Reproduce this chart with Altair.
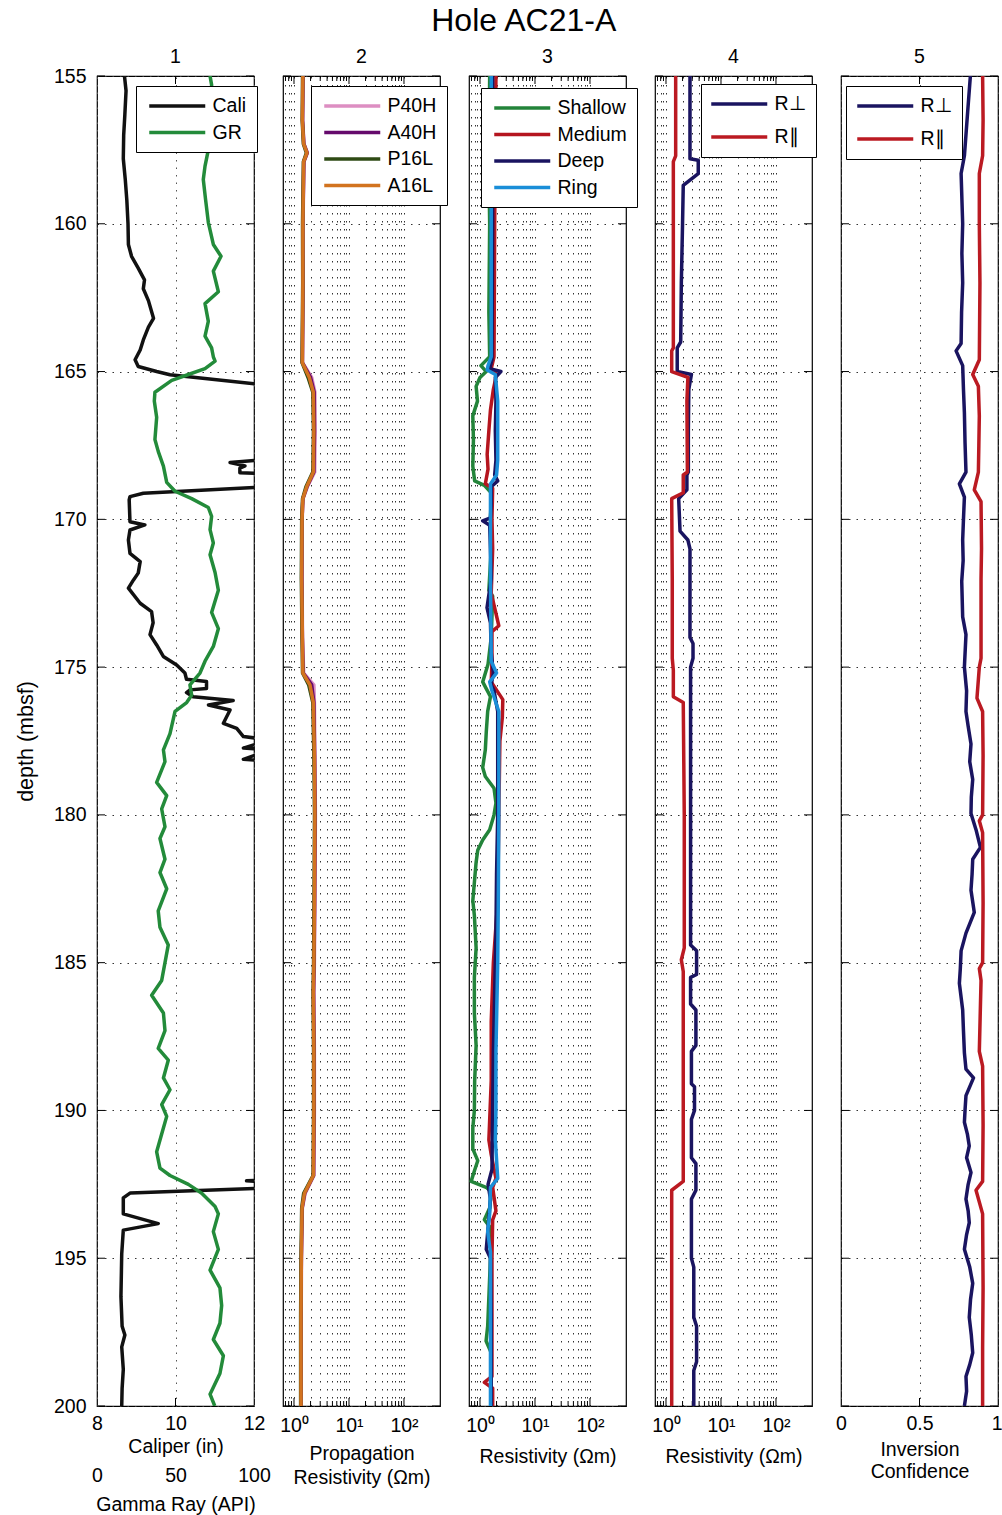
import altair as alt
import pandas as pd

FONT = "Liberation Sans"
FS = 19.5
W, H = 157, 1330
LW = 3.5
DEPTH_TICKS = [155, 160, 165, 170, 175, 180, 185, 190, 195, 200]

# ---------------- Track 1 : caliper (in) and gamma ray (API) ----------------
CALI = [(155.0, 8.70), (155.5, 8.74), (156.3, 8.71), (157.0, 8.68), (157.8, 8.67), (158.5, 8.72),
        (159.2, 8.76), (160.0, 8.79), (160.7, 8.80), (161.1, 8.88), (161.5, 9.05), (161.9, 9.21),
        (162.2, 9.18), (162.6, 9.31), (163.2, 9.44), (163.5, 9.31), (163.93, 9.18), (164.27, 9.10),
        (164.6, 8.97), (164.83, 9.05), (165.0, 9.52), (165.11, 9.86), (165.5, 12.6), (165.6, 13.0),
        (167.9, 13.0), (168.08, 11.39), (168.19, 11.77), (168.27, 11.64), (168.42, 11.64), (168.5, 13.0),
        (168.85, 13.0), (169.12, 9.18), (169.23, 8.84), (169.34, 8.82), (170.08, 8.84), (170.19, 9.22),
        (170.36, 8.84), (170.7, 8.80), (171.15, 8.84), (171.43, 9.10), (171.82, 9.05), (172.05, 8.93),
        (172.33, 8.80), (172.84, 9.10), (173.12, 9.39), (173.5, 9.43), (173.9, 9.35), (174.25, 9.52),
        (174.64, 9.69), (174.93, 10.03), (175.2, 10.24), (175.41, 10.28), (175.49, 10.79), (175.72, 10.79),
        (175.77, 10.37), (175.86, 10.28), (176.0, 10.45), (176.13, 11.47), (176.28, 10.84), (176.45, 11.39),
        (176.9, 11.22), (177.07, 11.56), (177.35, 11.73), (177.46, 12.4), (177.74, 11.73), (177.8, 12.4),
        (178.12, 11.73), (178.23, 13.0), (192.3, 13.0), (192.38, 11.81), (192.48, 13.0), (192.62, 12.4),
        (192.79, 8.85), (192.96, 8.67), (193.5, 8.67), (193.83, 9.56), (194.05, 8.67), (194.85, 8.63),
        (196.3, 8.61), (197.3, 8.64), (197.6, 8.71), (198.0, 8.63), (198.76, 8.67), (199.4, 8.64),
        (200.0, 8.63)]

GR = [(155.0, 72.0), (155.3, 73.0), (156.3, 72.6), (157.5, 70.9), (158.05, 68.8), (158.5, 67.7),
      (159.2, 69.2), (159.95, 70.9), (160.7, 74.1), (161.1, 79.0), (161.6, 74.1), (162.3, 77.3),
      (162.7, 68.8), (163.3, 70.9), (163.8, 68.8), (164.2, 73.0), (164.5, 74.1), (164.65, 75.2),
      (164.9, 68.8), (165.1, 58.2), (165.3, 47.6), (165.7, 36.9), (166.0, 36.5), (166.55, 38.0),
      (167.3, 36.9), (167.7, 39.0), (168.2, 42.3), (168.75, 44.4), (169.05, 49.7), (169.3, 60.3),
      (169.6, 70.9), (169.9, 73.0), (170.35, 72.0), (170.8, 74.1), (171.2, 72.0), (171.8, 75.2),
      (172.4, 77.3), (173.15, 73.0), (173.7, 77.3), (174.3, 74.1), (174.8, 68.8), (175.2, 65.6),
      (175.6, 59.2), (175.95, 60.3), (176.2, 57.1), (176.5, 49.7), (177.25, 46.5), (177.8, 42.3),
      (178.2, 43.3), (178.9, 38.0), (179.35, 44.4), (179.8, 41.2), (180.4, 43.3), (180.8, 40.1),
      (181.5, 43.3), (181.95, 40.1), (182.5, 44.4), (183.25, 39.0), (183.8, 40.1), (184.4, 45.4),
      (185.0, 43.3), (185.6, 41.2), (186.1, 34.8), (186.7, 42.3), (187.3, 43.3), (187.9, 39.0),
      (188.3, 45.4), (188.9, 42.3), (189.3, 46.5), (189.8, 41.2), (190.2, 44.4), (190.8, 41.2),
      (191.4, 38.0), (191.95, 40.1), (192.2, 46.5), (192.5, 58.2), (192.8, 66.7), (193.25, 75.2),
      (193.5, 77.3), (194.1, 74.1), (194.7, 77.3), (195.4, 72.0), (196.0, 78.3), (196.6, 79.4),
      (197.2, 78.3), (197.75, 74.1), (198.3, 80.5), (198.9, 78.3), (199.6, 72.0), (200.0, 75.0)]

# ---------------- Track 2 : propagation resistivity (ohm m) ----------------
PROP_DEPTH = [155, 156.5, 157.3, 157.6, 157.9, 160, 162, 164.7, 165.2, 165.7, 167, 168.4, 168.9,
              169.3, 170, 172, 174, 175.2, 175.6, 176.2, 178, 180, 183, 185, 186, 188, 190, 192.2,
              192.8, 193.3, 195, 197, 200]
P40H = [1.47, 1.44, 1.52, 1.75, 1.52, 1.46, 1.47, 1.43, 2.10, 2.40, 2.42, 2.38, 1.75, 1.46, 1.41,
        1.40, 1.43, 1.50, 2.30, 2.35, 2.40, 2.45, 2.40, 2.35, 2.30, 2.35, 2.35, 2.30, 1.60, 1.42,
        1.37, 1.35, 1.35]
A40H = [1.46, 1.43, 1.51, 1.74, 1.51, 1.45, 1.46, 1.42, 2.00, 2.33, 2.36, 2.30, 1.72, 1.45, 1.40,
        1.39, 1.42, 1.47, 2.10, 2.30, 2.37, 2.42, 2.37, 2.32, 2.27, 2.32, 2.32, 2.27, 1.57, 1.41,
        1.36, 1.34, 1.34]
P16L = [1.43, 1.41, 1.48, 1.68, 1.48, 1.43, 1.44, 1.40, 1.80, 2.20, 2.26, 2.20, 1.65, 1.43, 1.38,
        1.36, 1.40, 1.43, 1.85, 2.20, 2.30, 2.36, 2.31, 2.27, 2.22, 2.27, 2.27, 2.22, 1.50, 1.38,
        1.34, 1.32, 1.32]
A16L = [1.45, 1.42, 1.50, 1.72, 1.50, 1.45, 1.45, 1.42, 1.90, 2.25, 2.30, 2.25, 1.70, 1.45, 1.40,
        1.38, 1.42, 1.45, 1.95, 2.25, 2.35, 2.40, 2.35, 2.30, 2.25, 2.30, 2.30, 2.25, 1.55, 1.40,
        1.36, 1.34, 1.34]

# ---------------- Track 3 : resistivity (ohm m) ----------------
SHALLOW = [(155, 1.50), (158, 1.45), (160, 1.50), (163, 1.45), (164.5, 1.50), (164.8, 1.04),
           (165.0, 1.30), (165.2, 1.00), (165.5, 0.85), (166.0, 0.90), (166.5, 0.74), (167.3, 0.76),
           (168.2, 0.74), (168.7, 0.80), (168.85, 1.20), (169.1, 1.60), (170.0, 1.55), (171.0, 1.60),
           (172.4, 1.45), (172.6, 1.70), (174.0, 1.60), (174.9, 1.40), (175.5, 1.12), (176.0, 1.55),
           (176.5, 1.38), (177.2, 1.30), (177.8, 1.25), (178.4, 1.12), (178.7, 1.25), (179.1, 1.80),
           (179.6, 1.95), (180.0, 1.80), (180.5, 1.50), (180.85, 1.12), (181.2, 0.91), (181.6, 0.85),
           (182.9, 0.74), (183.4, 0.79), (184.5, 0.85), (185.5, 0.79), (186.7, 0.79), (187.8, 0.85),
           (189.0, 0.80), (190.0, 0.79), (190.6, 0.74), (191.3, 0.74), (191.7, 0.91), (192.05, 0.79),
           (192.4, 0.69), (192.6, 1.29), (192.75, 1.60), (193.3, 1.50), (193.7, 1.20), (194.0, 1.60),
           (195.0, 1.55), (197.3, 1.38), (197.8, 1.29), (198.2, 1.60), (200.0, 1.60)]
MEDIUM = [(155, 1.95), (157, 1.90), (160, 1.85), (164.5, 1.80), (164.9, 1.60), (165.1, 2.00),
          (165.6, 1.75), (166.3, 1.55), (167.0, 1.45), (167.8, 1.35), (168.3, 1.40), (168.8, 1.25),
          (168.95, 1.70), (170.0, 1.65), (171.0, 1.70), (172.5, 1.60), (173.6, 2.20), (173.8, 1.65),
          (174.8, 1.65), (175.5, 1.60), (176.1, 2.60), (176.7, 2.55), (177.5, 2.30), (180.0, 2.20),
          (182.9, 2.10), (185.0, 1.75), (187.0, 1.60), (189.0, 1.60), (190.6, 1.48), (191.0, 1.45),
          (191.5, 1.60), (192.3, 1.95), (192.6, 1.70), (193.4, 1.95), (193.7, 1.70), (195.0, 1.65),
          (199.0, 1.65), (199.2, 1.20), (199.4, 1.70), (200.0, 1.70)]
DEEP = [(155, 1.70), (160, 1.70), (164.6, 1.65), (164.9, 1.50), (165.0, 2.40), (165.2, 1.90),
        (166.0, 1.95), (167.0, 1.90), (168.0, 1.95), (168.5, 1.85), (168.7, 2.10), (168.9, 1.60),
        (169.5, 1.60), (169.95, 1.55), (170.05, 1.12), (170.2, 1.50), (171.0, 1.55), (172.0, 1.60),
        (172.99, 1.34), (173.5, 1.55), (174.5, 1.60), (175.2, 1.75), (175.6, 1.60), (175.8, 1.80),
        (176.5, 2.10), (178.0, 2.10), (180.0, 2.10), (182.0, 2.00), (184.0, 1.95), (186.0, 1.85),
        (188.0, 1.75), (190.0, 1.70), (192.0, 1.65), (192.5, 1.40), (193.0, 1.55), (194.7, 1.30),
        (195.0, 1.55), (197.0, 1.60), (200.0, 1.60)]
RING = [(155, 1.60), (160, 1.60), (164.5, 1.60), (164.8, 1.40), (164.95, 1.35), (165.1, 1.90),
        (166.0, 2.10), (168.0, 2.10), (168.5, 2.00), (168.8, 1.55), (170.0, 1.55), (172.0, 1.55),
        (174.8, 1.60), (175.2, 2.00), (175.5, 1.50), (175.8, 1.65), (176.5, 2.20), (178.0, 2.20),
        (180.0, 2.20), (183.0, 2.15), (185.0, 2.10), (188.0, 1.95), (190.0, 1.95), (191.0, 1.90),
        (192.3, 2.10), (192.6, 1.55), (193.5, 1.50), (194.1, 1.38), (194.8, 1.55), (197.0, 1.55),
        (200.0, 1.55)]

# ---------------- Track 4 : inverted resistivity (ohm m) ----------------
RPERP = [(155, 2.73), (157.8, 2.73), (157.85, 3.86), (158.3, 3.86), (158.7, 2.06), (160, 2.00),
         (162, 1.90), (164, 1.85), (164.2, 1.60), (165.0, 1.60), (165.1, 2.90), (165.6, 2.60),
         (167, 2.55), (168.4, 2.55), (168.5, 2.40), (169.0, 2.40), (169.3, 1.70), (170.4, 1.80),
         (170.7, 2.50), (171, 2.73), (174, 2.73), (174.2, 3.10), (174.7, 3.10), (175, 2.80),
         (180, 2.80), (184.4, 2.80), (184.6, 3.60), (185.4, 3.60), (185.5, 2.80), (186.4, 2.80),
         (186.6, 3.50), (187.8, 3.50), (188.0, 2.90), (189.1, 2.90), (189.2, 3.30), (190, 3.30),
         (190.3, 2.90), (191.6, 2.90), (191.8, 3.50), (192.7, 3.50), (193, 2.90), (195, 2.90),
         (195.3, 3.20), (197, 3.20), (197.3, 3.60), (198.5, 3.60), (198.8, 3.20), (200, 3.20)]
RPAR = [(155, 1.50), (157.7, 1.50), (157.9, 1.36), (160, 1.36), (164.2, 1.36), (164.3, 1.27),
        (165.0, 1.27), (165.2, 2.50), (166, 2.40), (168.4, 2.45), (168.5, 2.06), (169.1, 2.06),
        (169.3, 1.27), (172, 1.30), (174.7, 1.30), (175.1, 1.36), (176.0, 1.36), (176.2, 2.06),
        (180, 2.15), (184.5, 2.15), (184.9, 1.90), (185.3, 2.06), (192.4, 2.06), (192.7, 1.27),
        (200, 1.27)]

# ---------------- Track 5 : inversion confidence ----------------
CONF_PERP = [(155, 0.824), (156.2, 0.807), (157.7, 0.786), (158.3, 0.765), (160.0, 0.775),
             (161.0, 0.770), (162.0, 0.775), (163.0, 0.768), (164.05, 0.765), (164.3, 0.733),
             (164.8, 0.775), (165.6, 0.780), (166.4, 0.786), (167.4, 0.790), (168.4, 0.796),
             (168.8, 0.754), (169.25, 0.786), (170.0, 0.780), (170.7, 0.775), (171.4, 0.778),
             (172.1, 0.769), (173.3, 0.775), (173.9, 0.796), (175.0, 0.786), (175.8, 0.800),
             (176.5, 0.796), (177.0, 0.810), (177.6, 0.828), (178.2, 0.820), (178.8, 0.839),
             (179.4, 0.830), (179.95, 0.828), (180.5, 0.860), (181.1, 0.888), (181.5, 0.839),
             (182.0, 0.835), (182.55, 0.828), (183.3, 0.849), (184.0, 0.796), (184.6, 0.765),
             (185.2, 0.760), (185.7, 0.754), (186.6, 0.775), (187.3, 0.780), (188.05, 0.786),
             (188.6, 0.796), (188.9, 0.844), (189.5, 0.796), (190.0, 0.790), (190.4, 0.786),
             (190.8, 0.805), (191.2, 0.817), (191.6, 0.800), (192.1, 0.828), (192.5, 0.810),
             (193.0, 0.796), (193.4, 0.810), (193.8, 0.817), (194.2, 0.800), (194.7, 0.786),
             (195.3, 0.820), (195.85, 0.839), (196.4, 0.825), (197.0, 0.817), (197.6, 0.830),
             (198.2, 0.839), (198.6, 0.820), (199.0, 0.796), (199.5, 0.800), (200.0, 0.786)]
CONF_PAR = [(155, 0.902), (156.5, 0.905), (157.7, 0.902), (158.3, 0.881), (160, 0.881), (162, 0.885),
            (164.6, 0.881), (165.1, 0.839), (165.5, 0.875), (166.5, 0.881), (167.5, 0.878),
            (168.4, 0.875), (169.0, 0.849), (169.4, 0.892), (171, 0.895), (172, 0.892),
            (174.7, 0.892), (175.0, 0.881), (176.05, 0.866), (176.5, 0.902), (178, 0.905),
            (180.0, 0.902), (180.2, 0.881), (180.6, 0.902), (183, 0.905), (185.0, 0.902),
            (185.2, 0.881), (185.6, 0.892), (188.0, 0.881), (188.5, 0.902), (190.5, 0.905),
            (192.4, 0.902), (192.7, 0.860), (193.5, 0.902), (196, 0.905), (198, 0.902), (200, 0.902)]

LOG_MAJOR = [1, 10, 100]
LOG_MINOR = [0.7, 0.8, 0.9, 2, 3, 4, 5, 6, 7, 8, 9, 20, 30, 40, 50, 60, 70, 80, 90]


# ---------------- helpers ----------------
def frame(named_pairs):
    rows = []
    for name, pairs in named_pairs:
        for d, v in pairs:
            rows.append({"series": name, "depth": d, "value": v})
    return pd.DataFrame(rows)


YSCALE = alt.Scale(domain=[155, 200], reverse=True, nice=False, zero=False)


def y_enc(show):
    if show:
        ax = alt.Axis(values=DEPTH_TICKS, grid=True, gridColor="#333", gridDash=[1.5, 6],
                      ticks=False, domain=False, labelFontSize=FS, labelPadding=11,
                      title="depth (mbsf)", titleFontSize=21.5, titlePadding=16)
    else:
        ax = alt.Axis(values=DEPTH_TICKS, grid=True, gridColor="#333", gridDash=[1.5, 6],
                      ticks=False, domain=False, labels=False, title=None)
    return alt.Y("depth:Q", scale=YSCALE, axis=ax)


def line_layers(df, names, colors, xscale, xaxis, legend, show_y):
    cscale = alt.Scale(domain=names, range=colors)
    out = []
    for n in names:
        out.append(
            alt.Chart(df).transform_filter(alt.datum.series == n)
            .mark_line(strokeWidth=LW, clip=True, strokeJoin="round")
            .encode(x=alt.X("value:Q", scale=xscale, axis=xaxis),
                    y=y_enc(show_y),
                    color=alt.Color("series:N", scale=cscale, legend=legend),
                    order=alt.Order("depth:Q")))
    return out


def xtick_layers(major, minor, xscale, xaxis):
    out = []
    for vals, ln in ((major, 8), (minor, 5)):
        if not vals:
            continue
        d = pd.DataFrame({"value": vals})
        for top in (True, False):
            y0 = 0 if top else H
            y1 = ln if top else H - ln
            out.append(alt.Chart(d).mark_rule(color="black", strokeWidth=1).encode(
                x=alt.X("value:Q", scale=xscale, axis=xaxis),
                y=alt.value(y0), y2=alt.value(y1)))
    return out


def ytick_layers(show_y):
    d = pd.DataFrame({"depth": DEPTH_TICKS})
    return [alt.Chart(d).mark_rule(color="black", strokeWidth=1).encode(
                y=y_enc(show_y), x=alt.value(x0), x2=alt.value(x1))
            for x0, x1 in ((0, 8), (W - 8, W))]


# legend line symbol: custom path of 56 px drawn with a small nominal size
SYM_UNIT = 16                      # sqrt(symbolSize)
SYM_LEN = 56                       # visible line length
ENTRY = max(SYM_UNIT + LW, FS)     # vega entry size (rounded up)
SYM_PATH = "M-%.4f,0H%.4f" % (SYM_LEN / SYM_UNIT, SYM_LEN / SYM_UNIT)


def legend(x, y, rowpad=6.5, shift=3):
    sym_off = SYM_LEN / 2 - ENTRY / 2 + shift
    lab_off = SYM_LEN + 7 - ENTRY - sym_off + shift
    return alt.Legend(title=None, orient="none", legendX=x, legendY=y, symbolType=SYM_PATH,
                      symbolSize=SYM_UNIT * SYM_UNIT, symbolStrokeWidth=LW,
                      symbolOffset=sym_off, labelOffset=lab_off,
                      labelFontSize=FS, labelFont=FONT, labelColor="black", strokeColor="black",
                      fillColor="white", padding=10, rowPadding=rowpad, cornerRadius=0)


def ptitle(t, off=8):
    return alt.TitleParams(text=t, fontSize=FS, font=FONT, fontWeight="normal", offset=off)


LOG_SCALE = alt.Scale(type="log", domain=[0.631, 452], nice=False)
LOG_LABEL = "datum.value == 1 ? '10⁰' : datum.value == 10 ? '10¹' : datum.value == 100 ? '10²' : ''"


def log_axis(title, tpad):
    return alt.Axis(values=LOG_MAJOR + LOG_MINOR, labelExpr=LOG_LABEL, grid=True, gridColor="#333",
                    gridDash=[1.5, 6.5], ticks=False, domain=False, labelFlush=False, labelOverlap=False,
                    labelFontSize=FS, labelPadding=10, title=title, titleFontSize=FS,
                    titlePadding=tpad, titleLineHeight=24)


# ---------------- track 1 ----------------
df1 = frame([("Cali", CALI), ("GR", GR)])
cscale1 = alt.Scale(domain=["Cali", "GR"], range=["#111111", "#238b3a"])
leg1 = legend(39, 10)
cal_scale = alt.Scale(domain=[8, 12], nice=False, zero=False)
gr_scale = alt.Scale(domain=[0, 100], nice=False, zero=False)
cal_axis = alt.Axis(values=[8, 10, 12], format="d", grid=True, gridColor="#555", gridDash=[1.5, 6],
                    ticks=False, domain=False, labelFlush=False, labelFontSize=FS, labelPadding=8,
                    title="Caliper (in)", titleFontSize=FS, titlePadding=5)
gr_axis = alt.Axis(values=[0, 50, 100], format="d", grid=False, ticks=False, domain=False,
                   labelFlush=False, labelFontSize=FS, labelPadding=8, offset=52, orient="bottom",
                   title="Gamma Ray (API)", titleFontSize=FS, titlePadding=11)
cal = (alt.Chart(df1).transform_filter(alt.datum.series == "Cali")
       .mark_line(strokeWidth=LW, clip=True, strokeJoin="round")
       .encode(x=alt.X("value:Q", scale=cal_scale, axis=cal_axis), y=y_enc(True),
               color=alt.Color("series:N", scale=cscale1, legend=leg1), order=alt.Order("depth:Q")))
grl = (alt.Chart(df1).transform_filter(alt.datum.series == "GR")
       .mark_line(strokeWidth=LW, clip=True, strokeJoin="round")
       .encode(x=alt.X("value:Q", scale=gr_scale, axis=gr_axis), y=y_enc(True),
               color=alt.Color("series:N", scale=cscale1, legend=leg1), order=alt.Order("depth:Q")))
t1 = alt.layer(*xtick_layers([10], [], cal_scale, None), *ytick_layers(True), cal, grl) \
    .resolve_scale(x="independent").properties(width=W, height=H, title=ptitle("1", -1))

# ---------------- track 2 ----------------
names2 = ["P40H", "A40H", "P16L", "A16L"]
cols2 = ["#dd8ec2", "#650a6c", "#2e4a14", "#d2731f"]
df2 = pd.DataFrame({"series": sum([[n] * len(PROP_DEPTH) for n in names2], []),
                    "depth": PROP_DEPTH * 4, "value": P40H + A40H + P16L + A16L})
ax2 = log_axis(["Propagation", "Resistivity (Ωm)"], 10)
t2 = alt.layer(*xtick_layers(LOG_MAJOR, LOG_MINOR, LOG_SCALE, ax2), *ytick_layers(False),
               *line_layers(df2, names2, cols2, LOG_SCALE, ax2, legend(28, 10), False)) \
    .properties(width=W, height=H, title=ptitle("2"))

# ---------------- track 3 ----------------
names3 = ["Shallow", "Medium", "Deep", "Ring"]
cols3 = ["#23843a", "#b5151f", "#1a1460", "#1a8ed8"]
df3 = frame([("Shallow", SHALLOW), ("Medium", MEDIUM), ("Deep", DEEP), ("Ring", RING)])
ax3 = log_axis("Resistivity (Ωm)", 13)
t3 = alt.layer(*xtick_layers(LOG_MAJOR, LOG_MINOR, LOG_SCALE, ax3), *ytick_layers(False),
               *line_layers(df3, names3, cols3, LOG_SCALE, ax3, legend(12, 12), False)) \
    .properties(width=W, height=H, title=ptitle("3"))

# ---------------- track 4 ----------------
names4 = ["R⊥", "R∥"]
cols4 = ["#1a1460", "#bb1a22"]
df4 = frame([("R⊥", RPERP), ("R∥", RPAR)])
ax4 = log_axis("Resistivity (Ωm)", 13)
t4 = alt.layer(*xtick_layers(LOG_MAJOR, LOG_MINOR, LOG_SCALE, ax4), *ytick_layers(False),
               *line_layers(df4, names4, cols4, LOG_SCALE, ax4, legend(46, 8, 13, 0), False)) \
    .properties(width=W, height=H, title=ptitle("4"))

# ---------------- track 5 ----------------
df5 = frame([("R⊥", CONF_PERP), ("R∥", CONF_PAR)])
sc5 = alt.Scale(domain=[0, 1], nice=False, zero=False)
ax5 = alt.Axis(values=[0, 0.5, 1], format=".1~f", grid=True, gridColor="#444", gridDash=[1.5, 6],
               ticks=False, domain=False, labelFlush=False, labelFontSize=FS, labelPadding=8,
               labelAlign={"condition": {"test": "datum.value == 1", "value": "right"}, "value": "center"},
               labelOffset={"condition": {"test": "datum.value == 1", "value": 4}, "value": 0},
               title=["Inversion", "Confidence"], titleFontSize=FS, titlePadding=8, titleLineHeight=22)
t5 = alt.layer(*xtick_layers([0.5], [], sc5, ax5), *ytick_layers(False),
               *line_layers(df5, names4, cols4, sc5, ax5, legend(5, 10, 13, 1), False)) \
    .properties(width=W, height=H, title=ptitle("5"))

chart = (alt.hconcat(t1, t2, t3, t4, t5, spacing=29, bounds="flush")
         .resolve_scale(x="independent", y="independent", color="independent")
         .resolve_axis(x="independent", y="independent")
         .resolve_legend(color="independent")
         .properties(title=alt.TitleParams("Hole AC21-A", fontSize=32, font=FONT, fontWeight="normal",
                                           anchor="middle", offset=8, dx=15),
                     autosize=alt.AutoSizeParams(type="none"),
                     padding={"left": 97, "top": 76, "right": 905, "bottom": 1439})
         .configure_view(stroke="black", strokeWidth=1.2)
         .configure_axis(labelFont=FONT, titleFont=FONT, labelColor="black", titleColor="black",
                         titleFontWeight="normal")
         .configure_legend(labelFont=FONT)
         .configure_title(font=FONT, color="black"))

chart.save("out.html", embed_options={"renderer": "svg", "actions": False})
